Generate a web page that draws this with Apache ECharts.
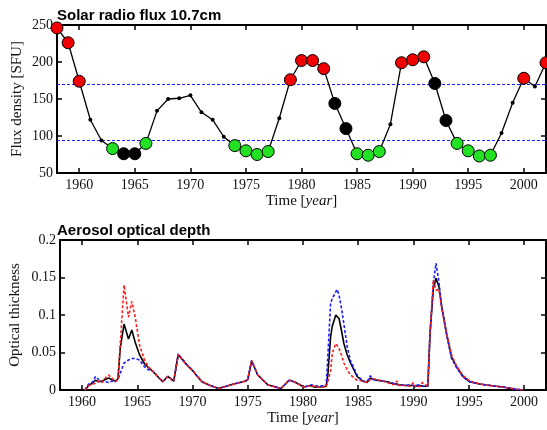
<!DOCTYPE html>
<html><head><meta charset="utf-8">
<script src="https://cdn.jsdelivr.net/npm/echarts@6/dist/echarts.min.js"></script>
<style>html,body{margin:0;padding:0;background:#fff}#c{width:547px;height:430px}</style>
</head><body><div id="c"></div>
<script>
// ---- Top panel: Solar radio flux 10.7cm ----
const fluxYears = [1958,1959,1960,1961,1962,1963,1964,1965,1966,1967,1968,1969,1970,1971,1972,1973,1974,1975,1976,1977,1978,1979,1980,1981,1982,1983,1984,1985,1986,1987,1988,1989,1990,1991,1992,1993,1994,1995,1996,1997,1998,1999,2000,2001,2002];
const fluxValues = [246,226,174,122,94,83,76,76,90,134,150,151,155,132,122,99,87,80,75,79,124,176,202,202,191,144,110,76,74,79,116,199,203,207,171,121,90,80,73,74,104,145,178,167,199];
// class of each year: r = high, k = medium, g = low, . = unmarked
const fluxClass = ['r','r','r','.','.','g','k','k','g','.','.','.','.','.','.','.','g','g','g','g','.','r','r','r','r','k','k','g','g','g','.','r','r','r','k','k','g','g','g','g','.','.','r','.','r'];
const fluxThresholds = [170, 94];
const xTicks = [1960,1965,1970,1975,1980,1985,1990,1995,2000];

// ---- Bottom panel: Aerosol optical depth ----
const aodTime = [1960.25,1960.6,1961.0,1961.2,1961.5,1961.8,1962.1,1962.4,1962.7,1963.0,1963.25,1963.45,1963.8,1964.2,1964.5,1964.8,1965.2,1965.65,1966.0,1966.4,1967.3,1967.75,1968.3,1968.7,1969.5,1970.0,1970.85,1971.6,1972.35,1973.5,1974.8,1975.0,1975.35,1975.9,1976.8,1978.0,1978.75,1979.2,1980.1,1980.7,1981.0,1981.5,1982.1,1982.25,1982.5,1982.65,1982.97,1983.1,1983.27,1983.5,1983.7,1984.0,1984.3,1984.9,1985.4,1985.8,1986.1,1986.4,1986.7,1987.2,1987.6,1988.2,1988.5,1988.7,1989.3,1989.7,1990.0,1990.2,1990.6,1990.8,1991.3,1991.5,1991.8,1992.04,1992.3,1992.55,1993.0,1993.45,1993.9,1994.5,1995.1,1996.0,1996.6,1997.5,1998.1,1999.3,1999.9];
const aodBlack = [0,0.006,0.010,0.013,0.011,0.012,0.014,0.016,0.014,0.012,0.015,0.055,0.088,0.068,0.080,0.064,0.047,0.035,0.030,0.025,0.011,0.018,0.012,0.047,0.033,0.026,0.011,0.006,0.002,0.007,0.012,0.014,0.039,0.020,0.007,0.002,0.013,0.011,0.004,0.006,0.004,0.004,0.005,0.020,0.071,0.085,0.100,0.099,0.095,0.078,0.062,0.047,0.036,0.018,0.012,0.010,0.016,0.014,0.013,0.012,0.011,0.008,0.008,0.007,0.006,0.006,0.006,0.005,0.006,0.005,0.005,0.075,0.135,0.149,0.138,0.112,0.075,0.044,0.031,0.018,0.011,0.008,0.0067,0.005,0.004,0.001,0];
const aodRed = [0,0.006,0.008,0.009,0.012,0.010,0.016,0.020,0.016,0.011,0.014,0.060,0.140,0.097,0.118,0.098,0.060,0.040,0.031,0.025,0.011,0.018,0.012,0.047,0.033,0.026,0.011,0.006,0.002,0.007,0.012,0.014,0.039,0.020,0.007,0.002,0.013,0.011,0.004,0.006,0.005,0.004,0.004,0.004,0.025,0.049,0.062,0.061,0.055,0.046,0.036,0.027,0.020,0.013,0.012,0.010,0.014,0.015,0.014,0.012,0.010,0.007,0.012,0.006,0.006,0.005,0.010,0.004,0.005,0.010,0.005,0.075,0.147,0.133,0.135,0.110,0.076,0.047,0.032,0.019,0.012,0.008,0.0067,0.005,0.004,0.001,0];
const aodBlue = [0,0.008,0.011,0.018,0.014,0.011,0.011,0.010,0.012,0.011,0.014,0.022,0.036,0.040,0.042,0.042,0.040,0.031,0.027,0.025,0.011,0.018,0.012,0.048,0.034,0.026,0.011,0.006,0.002,0.007,0.012,0.014,0.039,0.020,0.007,0.002,0.013,0.011,0.004,0.007,0.006,0.005,0.006,0.045,0.116,0.122,0.131,0.134,0.126,0.108,0.088,0.058,0.039,0.020,0.012,0.011,0.019,0.014,0.013,0.012,0.011,0.009,0.007,0.007,0.006,0.007,0.006,0.006,0.007,0.005,0.005,0.075,0.142,0.169,0.145,0.111,0.074,0.042,0.030,0.017,0.011,0.008,0.0067,0.005,0.004,0.001,0];

const serif = 'Liberation Serif';
const sans = 'Liberation Sans';
const classColor = {r:'#f00000', g:'#22e022', k:'#000000'};

const fluxData = fluxYears.map((y,i)=>{
  const c = fluxClass[i];
  if (c === '.') return {value:[y,fluxValues[i]], symbolSize:4, itemStyle:{color:'#000',borderWidth:0}};
  return {value:[y,fluxValues[i]], symbolSize:12, itemStyle:{color:classColor[c],borderColor:'#000',borderWidth:1}};
});
const pair = (arr)=>aodTime.map((t,i)=>[t,arr[i]]);

function xAx(gi, pos, showLabels){
  return {
    type:'value', gridIndex:gi, position:pos, min:1958, max:2002,
    name: showLabels ? 'Time [{i|year}]' : '', nameLocation:'middle', nameGap:21, nameMoveOverlap:false,
    nameTextStyle:{fontFamily:serif,fontSize:15,color:'#111',rich:{i:{fontFamily:serif,fontStyle:'italic',fontSize:15,color:'#111'}}},
    axisLine:{show:true,onZero:false,lineStyle:{color:'#000',width:2}},
    axisTick:{show:true,inside:true,length:5,lineStyle:{color:'#000',width:1.5},customValues:xTicks},
    axisLabel:{show:showLabels,customValues:xTicks,formatter:v=>String(v),fontFamily:serif,fontSize:14,color:'#111',margin:5},
    splitLine:{show:false}
  };
}
function yAx(gi, pos, min, max, interval, name, showLabels){
  return {
    type:'value', gridIndex:gi, position:pos, min:min, max:max, interval:interval,
    name: showLabels ? name : '', nameLocation:'middle', nameGap: gi===0?32:37, nameMoveOverlap:false,
    nameTextStyle:{fontFamily:serif,fontSize:15,color:'#111'},
    axisLine:{show:true,onZero:false,lineStyle:{color:'#000',width:2}},
    axisTick:{show:true,inside:true,length:5,lineStyle:{color:'#000',width:1.5}},
    axisLabel:{show:showLabels,fontFamily:serif,fontSize:14,color:'#111',margin:4},
    splitLine:{show:false}
  };
}

const chart = echarts.init(document.getElementById('c'), null, {renderer:'canvas'});
chart.setOption({
  animation:false,
  backgroundColor:'#fff',
  title:[
    {text:'Solar radio flux 10.7cm', left:52, top:3, textStyle:{fontFamily:sans,fontWeight:'bold',fontSize:15,color:'#000'}},
    {text:'Aerosol optical depth', left:52, top:218, textStyle:{fontFamily:sans,fontWeight:'bold',fontSize:15,color:'#000'}}
  ],
  grid:[
    {left:57, right:1, top:25, height:148},
    {left:57, right:1, top:240, height:150}
  ],
  xAxis:[xAx(0,'bottom',true), xAx(0,'top',false), xAx(1,'bottom',true), xAx(1,'top',false)],
  yAxis:[
    yAx(0,'left',50,250,50,'Flux density [SFU]',true), yAx(0,'right',50,250,50,'',false),
    yAx(1,'left',0,0.2,0.05,'Optical thickness',true), yAx(1,'right',0,0.2,0.05,'',false)
  ],
  series:[
    {type:'line', xAxisIndex:0, yAxisIndex:0, data:fluxData, symbol:'circle', showSymbol:true, clip:false,
     lineStyle:{color:'#000',width:1.3}, z:3,
     markLine:{z:1, silent:true, symbol:'none', label:{show:false},
       lineStyle:{color:'#1a1aff',width:1,type:[3,2]},
       data:fluxThresholds.map(v=>({yAxis:v}))}},
    {type:'line', xAxisIndex:2, yAxisIndex:2, data:pair(aodBlack), showSymbol:false, symbol:'none',
     lineStyle:{color:'#000',width:1.6}, z:2},
    {type:'line', xAxisIndex:2, yAxisIndex:2, data:pair(aodBlue), showSymbol:false, symbol:'none',
     lineStyle:{color:'#1a1aff',width:1.6,type:[3,2]}, z:3},
    {type:'line', xAxisIndex:2, yAxisIndex:2, data:pair(aodRed), showSymbol:false, symbol:'none',
     lineStyle:{color:'#ff2020',width:1.6,type:[3,2]}, z:4}
  ]
});
</script></body></html>
